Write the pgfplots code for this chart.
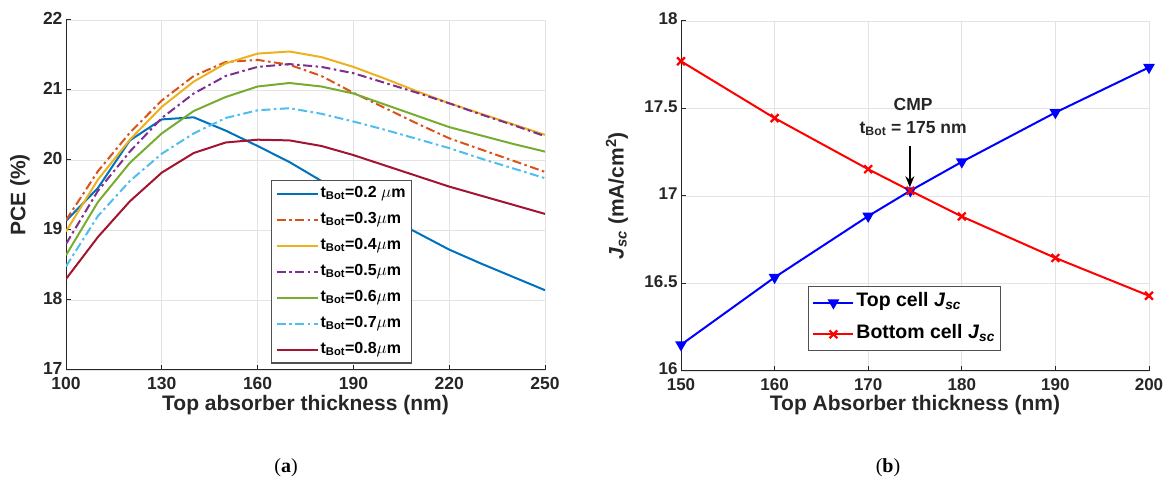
\documentclass[border=0pt]{standalone}
\usepackage{fontspec}
\setmainfont{Liberation Sans}
\newfontfamily\capfont{Liberation Serif}
\usepackage{pgfplots}
\pgfplotsset{compat=1.18}
\usetikzlibrary{arrows.meta}

\definecolor{mB}{HTML}{0072BD}
\definecolor{mO}{HTML}{D95319}
\definecolor{mY}{HTML}{EDB120}
\definecolor{mP}{HTML}{7E2F8E}
\definecolor{mG}{HTML}{77AC30}
\definecolor{mC}{HTML}{4DBEEE}
\definecolor{mR}{HTML}{A2142F}
\definecolor{axgray}{HTML}{262626}
\definecolor{gridc}{HTML}{E3E3E3}
\definecolor{txt}{HTML}{262626}

\pgfplotsset{
  matax/.style={
    scale only axis,
    axis x line=bottom, axis y line=left,
    axis line style={-, draw=axgray, line width=1bp},
    tick align=inside, major tick length=5bp,
    tick style={axgray, line width=1bp},
    grid=major, grid style={gridc, line width=0.8bp},
    /pgf/number format/assume math mode=true,
    xticklabel style={yshift=-4bp},
    yticklabel style={yshift=2bp},
    label style={font=\bfseries\fontsize{21bp}{24bp}\selectfont, text=txt},
    legend cell align=left,
  },
  dashdot/.style={dash pattern=on 9bp off 3.5bp on 2.5bp off 3.5bp},
}

\begin{document}
\begin{tikzpicture}
\path[use as bounding box] (0,0) rectangle (1164bp,488bp);

% (a) PCE versus top absorber thickness
\begin{axis}[matax,
  at={(66bp,118bp)}, anchor=south west,
  width=479bp, height=350bp,
  xmin=100, xmax=250, ymin=17, ymax=22,
  xtick={100,130,...,250}, ytick={17,18,...,22},
  ticklabel style={font=\bfseries\fontsize{17.5bp}{20bp}\selectfont, text=txt},
  xlabel={Top absorber thickness (nm)},
  ylabel={PCE (\%)},
  xlabel style={at={(rel axis cs:0.5,-0.1)}, anchor=center},
  ylabel style={at={(rel axis cs:-0.096,0.5)}, anchor=center},
  legend style={at={(0.428,0.543)}, anchor=north west, draw=axgray!80,
    line width=1.2bp, fill=white,
    font=\bfseries\fontsize{16bp}{18bp}\selectfont,
    nodes={text height=11.5bp, text depth=5bp, inner ysep=2bp},
    row sep=5.5bp, inner xsep=4bp, inner ysep=3bp},
  legend image code/.code={\draw[#1] (0bp,0bp) -- (41bp,0bp);},
  every axis plot/.append style={line width=2bp},
]
\addplot[mB] coordinates {(100,19.13) (110,19.6) (120,20.28) (130,20.58) (140,20.61) (150,20.42) (160,20.2) (170,19.97) (180,19.7) (190,19.45) (200,19.2) (210,18.96) (220,18.72) (230,18.52) (240,18.33) (250,18.14)};
\addlegendentry{t\textsubscript{Bot}=0.2 $\mu$m}
\addplot[mO, dashdot] coordinates {(100,19.14) (110,19.84) (120,20.39) (130,20.85) (140,21.2) (150,21.4) (160,21.43) (170,21.36) (180,21.2) (190,20.96) (200,20.74) (210,20.52) (220,20.31) (230,20.15) (240,19.99) (250,19.83)};
\addlegendentry{t\textsubscript{Bot}=0.3$\mu$m}
\addplot[mY] coordinates {(100,18.98) (110,19.72) (120,20.29) (130,20.76) (140,21.12) (150,21.38) (160,21.52) (170,21.55) (180,21.47) (190,21.33) (200,21.16) (210,20.98) (220,20.81) (230,20.66) (240,20.51) (250,20.36)};
\addlegendentry{t\textsubscript{Bot}=0.4$\mu$m}
\addplot[mP, dashdot] coordinates {(100,18.8) (110,19.56) (120,20.12) (130,20.6) (140,20.95) (150,21.2) (160,21.33) (170,21.37) (180,21.33) (190,21.24) (200,21.1) (210,20.96) (220,20.81) (230,20.65) (240,20.5) (250,20.34)};
\addlegendentry{t\textsubscript{Bot}=0.5$\mu$m}
\addplot[mG] coordinates {(100,18.64) (110,19.4) (120,19.96) (130,20.38) (140,20.7) (150,20.9) (160,21.05) (170,21.1) (180,21.05) (190,20.95) (200,20.79) (210,20.63) (220,20.47) (230,20.35) (240,20.23) (250,20.12)};
\addlegendentry{t\textsubscript{Bot}=0.6$\mu$m}
\addplot[mC, dashdot] coordinates {(100,18.48) (110,19.2) (120,19.7) (130,20.09) (140,20.38) (150,20.6) (160,20.71) (170,20.74) (180,20.66) (190,20.55) (200,20.43) (210,20.3) (220,20.17) (230,20.02) (240,19.88) (250,19.74)};
\addlegendentry{t\textsubscript{Bot}=0.7$\mu$m}
\addplot[mR] coordinates {(100,18.3) (110,18.9) (120,19.41) (130,19.82) (140,20.1) (150,20.25) (160,20.29) (170,20.28) (180,20.2) (190,20.07) (200,19.92) (210,19.77) (220,19.62) (230,19.49) (240,19.36) (250,19.23)};
\addlegendentry{t\textsubscript{Bot}=0.8$\mu$m}
\end{axis}

% (b) Jsc of top and bottom cells
\begin{axis}[matax,
  at={(681bp,117bp)}, anchor=south west,
  width=468bp, height=350bp,
  xmin=150, xmax=200, ymin=16, ymax=18,
  xtick={150,160,...,200}, ytick={16,16.5,...,18},
  ticklabel style={font=\bfseries\fontsize{17bp}{20bp}\selectfont, text=txt},
  xlabel={Top Absorber thickness (nm)},
  ylabel={\textit{J}\textsubscript{\textit{sc}} (mA/cm\textsuperscript{2})},
  xlabel style={at={(rel axis cs:0.5,-0.097)}, anchor=center},
  ylabel style={at={(rel axis cs:-0.137,0.5)}, anchor=center},
  legend style={at={(0.271,0.243)}, anchor=north west, draw=axgray!80,
    line width=1.2bp, fill=white,
    font=\bfseries\fontsize{19.5bp}{22bp}\selectfont,
    nodes={text height=14bp, text depth=6.5bp, inner ysep=2bp},
    row sep=7bp, inner xsep=4bp, inner ysep=4bp},
  legend image code/.code={\draw[mark repeat=2, mark phase=2, #1] plot coordinates {(0bp,0bp) (20bp,0bp) (40bp,0bp)};},
]
\addplot[blue, line width=2bp, mark=triangle*, mark size=4.8bp,
  mark options={rotate=180, solid, fill=blue}]
  coordinates {(150,16.15) (160,16.535) (170,16.885) (174.5,17.03) (180,17.195) (190,17.477) (200,17.735)};
\addlegendentry{Top cell \textit{J}\textsubscript{\textit{sc}}}
\addplot[red, line width=2bp, mark=x, mark size=5.5bp,
  mark options={solid, line width=2.2bp}]
  coordinates {(150,17.77) (160,17.445) (170,17.153) (174.5,17.03) (180,16.883) (190,16.646) (200,16.43)};
\addlegendentry{Bottom cell \textit{J}\textsubscript{\textit{sc}}}
\draw[black, line width=1.6bp, -{Stealth[length=11bp, width=9bp]}]
  (axis cs:174.45,17.285) -- (axis cs:174.45,17.05);
\node[font=\bfseries\fontsize{17.5bp}{20bp}\selectfont, text=txt]
  at (axis cs:174.8,17.525) {CMP};
\node[font=\bfseries\fontsize{17.5bp}{20bp}\selectfont, text=txt]
  at (axis cs:174.8,17.385) {t\textsubscript{Bot} = 175 nm};
\end{axis}

\node[font=\capfont\fontsize{20bp}{24bp}\selectfont] at (286bp,20bp) {(\textbf{a})};
\node[font=\capfont\fontsize{20bp}{24bp}\selectfont] at (888bp,20bp) {(\textbf{b})};
\end{tikzpicture}
\end{document}
